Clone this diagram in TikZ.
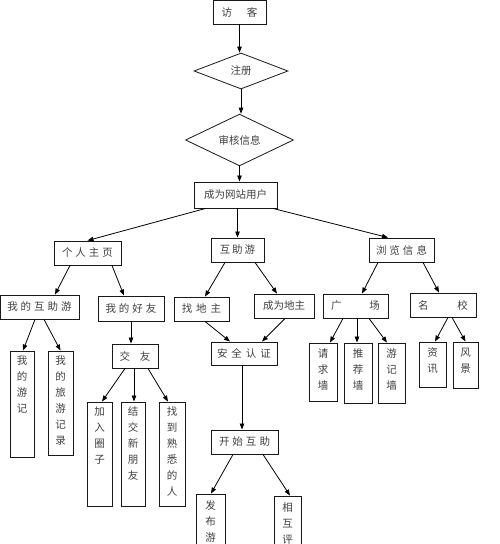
\documentclass[tikz,border=0pt]{standalone}
\usepackage{fontspec}
\setmainfont{Noto Sans CJK SC}
\usepackage{xcolor}
\usepackage{tikz}
\usetikzlibrary{calc,arrows.meta,shapes.geometric}

\newcommand{\gap}[1]{\hspace{#1pt}}

\begin{document}
\begin{tikzpicture}[x=1pt,y=-1pt,
    font=\fontsize{10.5pt}{16pt}\selectfont,
    dims/.style 2 args={minimum width=#1pt,minimum height=#2pt},
    box/.style={draw=black!90,line width=0.9pt,text=black!75,inner sep=0pt},
    decision/.style={diamond,draw=black!90,line width=0.8pt,text=black!75,inner sep=0pt},
    vtext/.style={anchor=north,align=center,text=black!75,inner sep=0pt},
    flow/.style={-{Triangle[length=6pt,width=4.5pt]},line width=0.8pt}]
  \clip (0,0) rectangle (500,544);
  % registration
  \node[box,dims={53}{24}] (visitor) at (239.5,12) {访\gap{15}客};
  \node[decision,dims={94}{36}] (register) at (241,71) {注册};
  \node[decision,dims={108}{40}] (audit) at (239.5,140) {审核信息};
  \node[box,dims={83}{26}] (user) at (235.5,195) {成为网站用户};
  % main sections
  \node[box,dims={67}{24}] (home) at (87.5,253) {个\gap3人\gap3主\gap3页};
  \node[box,dims={53}{24}] (mutual) at (237.5,250) {互\gap2助\gap2游};
  \node[box,dims={65}{24}] (browse) at (401.5,250) {浏\gap3览\gap3信\gap3息};
  % sub sections
  \node[box,dims={79}{24}] (mytour) at (39.5,307) {我\gap3的\gap3互\gap3助\gap3游};
  \node[box,dims={66}{25}] (friends) at (131,308.5) {我\gap3的\gap3好\gap3友};
  \node[box,dims={55}{24}] (findhost) at (201.5,309) {找\gap4地\gap4主};
  \node[box,dims={60}{24}] (behost) at (284,306) {成为地主};
  \node[box,dims={65}{24}] (square) at (355.5,306) {广\gap{28}场};
  \node[box,dims={66}{24}] (school) at (443,305) {名\gap{29}校};
  \node[box,dims={46}{24}] (making) at (135,356) {交\gap{10}友};
  \node[box,dims={66}{23}] (safety) at (244,353.5) {安\gap4全\gap4认\gap4证};
  \node[box,dims={67}{24}] (start) at (244.5,442) {开\gap3始\gap3互\gap3助};
  % upright boxes
  \node[box,dims={24}{106}] (notes) at (22,404) {};
  \node[box,dims={25}{104}] (records) at (60.5,403) {};
  \node[box,dims={25}{104}] (join) at (99.5,454) {};
  \node[box,dims={24}{104}] (newfr) at (133,454) {};
  \node[box,dims={26}{104}] (known) at (172,454) {};
  \node[box,dims={28}{58}] (request) at (323,372) {};
  \node[box,dims={28}{60}] (recommend) at (358,373) {};
  \node[box,dims={27}{60}] (wall) at (391.5,373) {};
  \node[box,dims={27}{45}] (news) at (432.5,364.5) {};
  \node[box,dims={25}{46}] (scenery) at (465.5,365) {};
  \node[box,dims={29}{80}] (publish) at (210.5,534) {};
  \node[box,dims={27}{80}] (review) at (287.5,536) {};
  \node[vtext] (notes-t) at ($(notes.north)+(0,5)$) {我\\的\\游\\记};
  \node[vtext] (records-t) at ($(records.north)+(0,5)$) {我\\的\\旅\\游\\记\\录};
  \node[vtext] (join-t) at ($(join.north)+(0,5)$) {加\\入\\圈\\子};
  \node[vtext] (newfr-t) at ($(newfr.north)+(0,5)$) {结\\交\\新\\朋\\友};
  \node[vtext] (known-t) at ($(known.north)+(0,5)$) {找\\到\\熟\\悉\\的\\人};
  \node[vtext] (request-t) at ($(request.north)+(0,6)$) {请\\求\\墙};
  \node[vtext] (recommend-t) at ($(recommend.north)+(0,6)$) {推\\荐\\墙};
  \node[vtext] (wall-t) at ($(wall.north)+(0,6)$) {游\\记\\墙};
  \node[vtext] (news-t) at ($(news.north)+(0,6)$) {资\\讯};
  \node[vtext] (scenery-t) at ($(scenery.north)+(0,6)$) {风\\景};
  \node[vtext] (publish-t) at ($(publish.north)+(0,7)$) {发\\布\\游};
  \node[vtext] (review-t) at ($(review.north)+(0,7)$) {相\\互\\评};
  % arrows
  \draw[flow] (visitor.south) -- (visitor.south |- register.north);
  \draw[flow] (register.south) -- (register.south |- audit.north);
  \draw[flow] (audit.south) -- (audit.south |- user.north);
  \draw[flow] ($(user.south)+(-30,0)$) -- (home.north);
  \draw[flow] (user.south -| mutual.north) -- (mutual.north);
  \draw[flow] ($(user.south)+(37.5,0)$) -- ($(browse.north)+(-13.5,0)$);
  \draw[flow] ($(home.south)+(-17.5,0)$) -- ($(mytour.north)+(15.5,0)$);
  \draw[flow] ($(home.south)+(24.5,0)$) -- ($(friends.north)+(-7,0)$);
  \draw[flow] ($(mutual.south)+(-12.5,0)$) -- ($(findhost.north)+(3.5,0)$);
  \draw[flow] ($(mutual.south)+(17.5,0)$) -- ($(behost.north)+(-7,0)$);
  \draw[flow] ($(browse.south)+(-23.5,0)$) -- ($(square.north)+(6.5,0)$);
  \draw[flow] ($(browse.south)+(21.5,0)$) -- ($(school.north)+(-4,0)$);
  \draw[flow] ($(mytour.south)+(-4.5,0)$) -- ($(notes.north)+(1,0)$);
  \draw[flow] ($(mytour.south)+(4.5,0)$) -- (records.north);
  \draw[flow] (friends.south) -- (friends.south |- making.north);
  \draw[flow] ($(findhost.south)+(3.5,0)$) -- ($(safety.north)+(-14,0)$);
  \draw[flow] ($(behost.south)+(1,0)$) -- ($(safety.north)+(18,0)$);
  \draw[flow] ($(square.south)+(-12.5,0)$) -- ($(request.north)+(7,0)$);
  \draw[flow] ($(square.south)+(1.5,0)$) -- ($(recommend.north)+(-1,0)$);
  \draw[flow] ($(square.south)+(13.5,0)$) -- ($(wall.north)+(-4.5,0)$);
  \draw[flow] ($(school.south)+(5,0)$) -- ($(news.north)+(2.5,0)$);
  \draw[flow] ($(school.south)+(9,0)$) -- (scenery.north);
  \draw[flow] ($(making.south)+(-10,0)$) -- ($(join.north)+(2.5,0)$);
  \draw[flow] ($(making.south)+(-1,0)$) -- ($(newfr.north)+(1,0)$);
  \draw[flow] ($(making.south)+(13,0)$) -- ($(known.north)+(-4,0)$);
  \draw[flow] ($(safety.south)+(-2,0)$) -- ($(start.north)+(-2.5,0)$);
  \draw[flow] ($(start.south)+(-11.5,0)$) -- ($(publish.north)+(0.5,0)$);
  \draw[flow] ($(start.south)+(18.5,0)$) -- ($(review.north)+(2.5,0)$);
\end{tikzpicture}
\end{document}
